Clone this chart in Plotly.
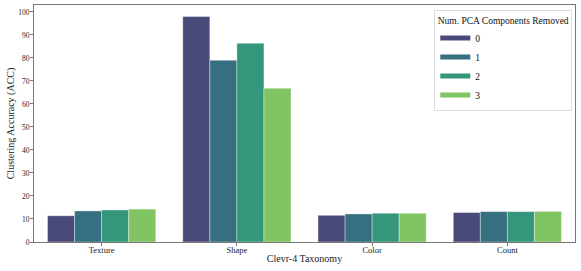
import plotly.graph_objects as go

categories = ["Texture", "Shape", "Color", "Count"]
series_names = ["0", "1", "2", "3"]
values = {
    "0": [11.4, 98.0, 11.6, 12.8],
    "1": [13.5, 79.0, 12.2, 13.2],
    "2": [13.9, 86.4, 12.5, 13.2],
    "3": [14.3, 66.8, 12.5, 13.3],
}
colors = ["#4a4a7a", "#366f7f", "#34977b", "#80c463"]
y_ticks = list(range(0, 101, 10))

fig = go.Figure()
for name, c in zip(series_names, colors):
    fig.add_trace(go.Bar(
        x=categories, y=values[name], name=name, showlegend=False,
        marker=dict(color=c, line=dict(color="rgba(255,255,255,0.45)", width=0.8)),
    ))
# legend entries drawn as wide flat swatches
for name, c in zip(series_names, colors):
    fig.add_trace(go.Scatter(
        x=[None], y=[None], mode="lines", name=name,
        line=dict(color=c, width=5),
    ))

font_family = "Liberation Serif, Times New Roman, serif"
fig.update_layout(
    width=581, height=271,
    margin=dict(l=34, r=6, t=5, b=29),
    barmode="group", bargap=0.2, bargroupgap=0,
    plot_bgcolor="white", paper_bgcolor="white",
    font=dict(family=font_family, size=8, color="#222"),
    legend=dict(
        x=0.995, xanchor="right", y=0.978, yanchor="top",
        title=dict(text="Num. PCA Components Removed", side="top center",
                   font=dict(size=9.5, family=font_family, color="#111")),
        font=dict(size=9.5, family=font_family, color="#111"),
        bordercolor="#dddddd", borderwidth=1, bgcolor="white",
        tracegroupgap=0, itemwidth=30,
    ),
    xaxis=dict(
        title=dict(text="Clevr-4 Taxonomy", font=dict(size=10), standoff=0),
        showline=True, linecolor="#777", linewidth=1, mirror=True,
        ticks="outside", ticklen=3, tickcolor="#777",
        tickfont=dict(size=8.5, color="#222"), automargin=False,
        ticklabelstandoff=-3,
    ),
    yaxis=dict(
        title=dict(text="Clustering Accuracy (ACC)", font=dict(size=10), standoff=1),
        range=[0, 103], tickvals=y_ticks,
        showline=True, linecolor="#777", linewidth=1, mirror=True,
        ticks="outside", ticklen=3, tickcolor="#777",
        showgrid=False, zeroline=False,
        tickfont=dict(size=7.5, color="#222"), automargin=False,
        ticklabelstandoff=-1,
    ),
)

fig.write_html(
    "out.html",
    config={"displayModeBar": False},
    post_script="document.body.style.margin='0';document.body.style.padding='0';",
)
